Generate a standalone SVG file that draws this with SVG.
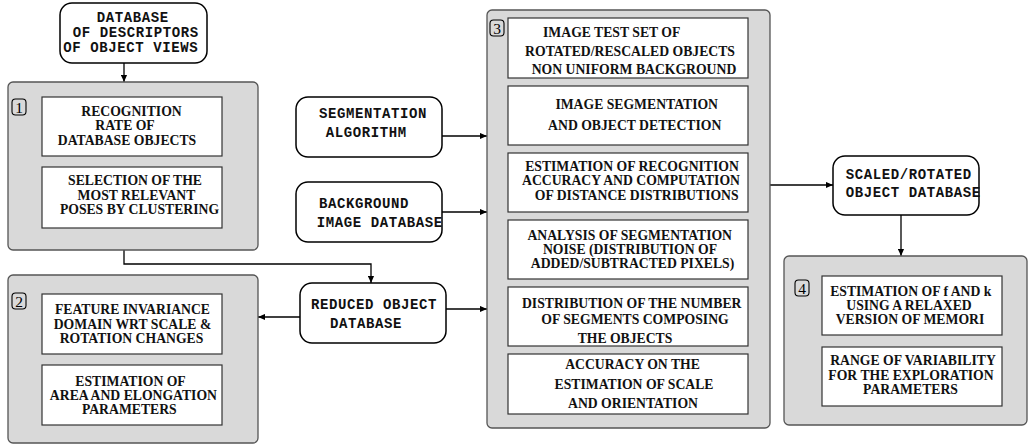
<svg xmlns="http://www.w3.org/2000/svg" width="1030" height="447" viewBox="0 0 1030 447">
<defs>
<marker id="ah" viewBox="0 0 8 8" refX="8" refY="4" markerWidth="7" markerHeight="7" markerUnits="userSpaceOnUse" orient="auto">
<path d="M0,0.5 L8,4 L0,7.5 z" fill="#000"/>
</marker>
<style>
.panel{fill:#d9d9d9;stroke:#555;stroke-width:1.3}
.box{fill:#fff;stroke:#333;stroke-width:1.2}
.node{fill:#fff;stroke:#000;stroke-width:1.5}
.badge{fill:none;stroke:#000;stroke-width:1.1}
.bt{font-family:"Liberation Serif",serif;font-size:15.5px;text-anchor:middle;fill:#000}
.t{font-family:"Liberation Serif",serif;font-weight:bold;font-size:13.7px;text-anchor:middle;fill:#111}
.m{font-family:"Liberation Mono",monospace;font-weight:bold;font-size:14px;letter-spacing:0.6px;fill:#111}
.c{fill:none;stroke:#000;stroke-width:1.3}
</style>
</defs>

<g id="connectors">
<path class="c" d="M124,63 V82" marker-end="url(#ah)"/>
<path class="c" d="M124,250 V264 H371 V283" marker-end="url(#ah)"/>
<path class="c" d="M300,317 H258" marker-end="url(#ah)"/>
<path class="c" d="M446,309 H487" marker-end="url(#ah)"/>
<path class="c" d="M442,136 H487" marker-end="url(#ah)"/>
<path class="c" d="M442,212 H487" marker-end="url(#ah)"/>
<path class="c" d="M770,185 H833" marker-end="url(#ah)"/>
<path class="c" d="M901,215 V256" marker-end="url(#ah)"/>
</g>

<g id="db-descriptors">
<rect class="node" x="60" y="3" width="147" height="60" rx="12"/>
<text class="m" x="96.7" y="21.7">DATABASE</text>
<text class="m" x="72.7" y="36.7">OF DESCRIPTORS</text>
<text class="m" x="63.3" y="51.7">OF OBJECT VIEWS</text>
</g>

<g id="panel1">
<rect class="panel" x="8" y="82" width="250" height="168" rx="5"/>
<rect class="badge" x="12" y="99" width="14" height="16" rx="3.5"/>
<text class="bt" x="19" y="112.5">1</text>
<rect class="box" x="42" y="97" width="180" height="59"/>
<text class="t" x="131.5" y="115.5">RECOGNITION</text>
<text class="t" x="125" y="130.3">RATE OF</text>
<text class="t" x="127" y="145">DATABASE OBJECTS</text>
<rect class="box" x="42" y="167" width="180" height="61"/>
<text class="t" x="135" y="185">SELECTION OF THE</text>
<text class="t" x="136.5" y="199.5">MOST RELEVANT</text>
<text class="t" x="139.5" y="214">POSES BY CLUSTERING</text>
</g>

<g id="panel2">
<rect class="panel" x="8" y="275" width="250" height="168" rx="5"/>
<rect class="badge" x="12" y="293" width="14" height="16" rx="3.5"/>
<text class="bt" x="19" y="306.5">2</text>
<rect class="box" x="42" y="294" width="180" height="60"/>
<text class="t" x="132.5" y="314.3">FEATURE INVARIANCE</text>
<text class="t" x="132.5" y="329">DOMAIN WRT SCALE &amp;</text>
<text class="t" x="131.5" y="343.3">ROTATION CHANGES</text>
<rect class="box" x="42" y="365" width="180" height="60"/>
<text class="t" x="130.5" y="385.7">ESTIMATION OF</text>
<text class="t" x="133.4" y="400">AREA AND ELONGATION</text>
<text class="t" x="129.3" y="414.3">PARAMETERS</text>
</g>

<g id="seg-algorithm">
<rect class="node" x="296" y="97" width="146" height="60" rx="12"/>
<text class="m" x="319" y="118.3">SEGMENTATION</text>
<text class="m" x="325.7" y="136.7">ALGORITHM</text>
</g>

<g id="background-db">
<rect class="node" x="296" y="182" width="146" height="60" rx="12"/>
<text class="m" x="319" y="208.3">BACKGROUND</text>
<text class="m" x="316.7" y="226.7">IMAGE DATABASE</text>
</g>

<g id="reduced-db">
<rect class="node" x="300" y="283" width="146" height="60" rx="12"/>
<text class="m" x="311" y="309.3">REDUCED OBJECT</text>
<text class="m" x="330" y="327.7">DATABASE</text>
</g>

<g id="panel3">
<rect class="panel" x="487" y="10" width="283" height="418" rx="5"/>
<rect class="badge" x="490" y="20" width="14" height="16" rx="3.5"/>
<text class="bt" x="497" y="33.5">3</text>
<rect class="box" x="508" y="18" width="240" height="60"/>
<text class="t" x="611.7" y="36.7">IMAGE TEST SET OF</text>
<text class="t" x="630" y="55.7">ROTATED/RESCALED OBJECTS</text>
<text class="t" x="634" y="73.5">NON UNIFORM BACKGROUND</text>
<rect class="box" x="508" y="86" width="240" height="59"/>
<text class="t" x="636.7" y="109">IMAGE SEGMENTATION</text>
<text class="t" x="634.7" y="130">AND OBJECT DETECTION</text>
<rect class="box" x="508" y="153" width="240" height="59"/>
<text class="t" x="632" y="170.7">ESTIMATION OF RECOGNITION</text>
<text class="t" x="631" y="185.3">ACCURACY AND COMPUTATION</text>
<text class="t" x="636.7" y="200">OF DISTANCE DISTRIBUTIONS</text>
<rect class="box" x="508" y="220" width="240" height="59"/>
<text class="t" x="629.7" y="240">ANALYSIS OF SEGMENTATION</text>
<text class="t" x="630" y="254.3">NOISE (DISTRIBUTION OF</text>
<text class="t" x="632.5" y="268.3">ADDED/SUBTRACTED PIXELS)</text>
<rect class="box" x="508" y="287" width="240" height="59"/>
<text class="t" x="631.7" y="307.7">DISTRIBUTION OF THE NUMBER</text>
<text class="t" x="635" y="324.3">OF SEGMENTS COMPOSING</text>
<text class="t" x="625" y="343">THE OBJECTS</text>
<rect class="box" x="508" y="354" width="240" height="60"/>
<text class="t" x="632.5" y="369.3">ACCURACY ON THE</text>
<text class="t" x="634" y="389">ESTIMATION OF SCALE</text>
<text class="t" x="633" y="407.7">AND ORIENTATION</text>
</g>

<g id="scaled-db">
<rect class="node" x="833" y="156" width="146" height="59" rx="12"/>
<text class="m" x="845.7" y="179">SCALED/ROTATED</text>
<text class="m" x="845.7" y="197.3">OBJECT DATABASE</text>
</g>

<g id="panel4">
<rect class="panel" x="784" y="256" width="243" height="169" rx="5"/>
<rect class="badge" x="795" y="280" width="14" height="16" rx="3.5"/>
<text class="bt" x="802" y="293.5">4</text>
<rect class="box" x="822" y="276" width="180" height="59"/>
<text class="t" x="910.8" y="295.7">ESTIMATION OF f AND k</text>
<text class="t" x="909" y="309.5">USING A RELAXED</text>
<text class="t" x="910" y="323.5">VERSION OF MEMORI</text>
<rect class="box" x="822" y="347" width="180" height="59"/>
<text class="t" x="913" y="365">RANGE OF VARIABILITY</text>
<text class="t" x="911" y="380">FOR THE EXPLORATION</text>
<text class="t" x="910.5" y="394">PARAMETERS</text>
</g>
</svg>
